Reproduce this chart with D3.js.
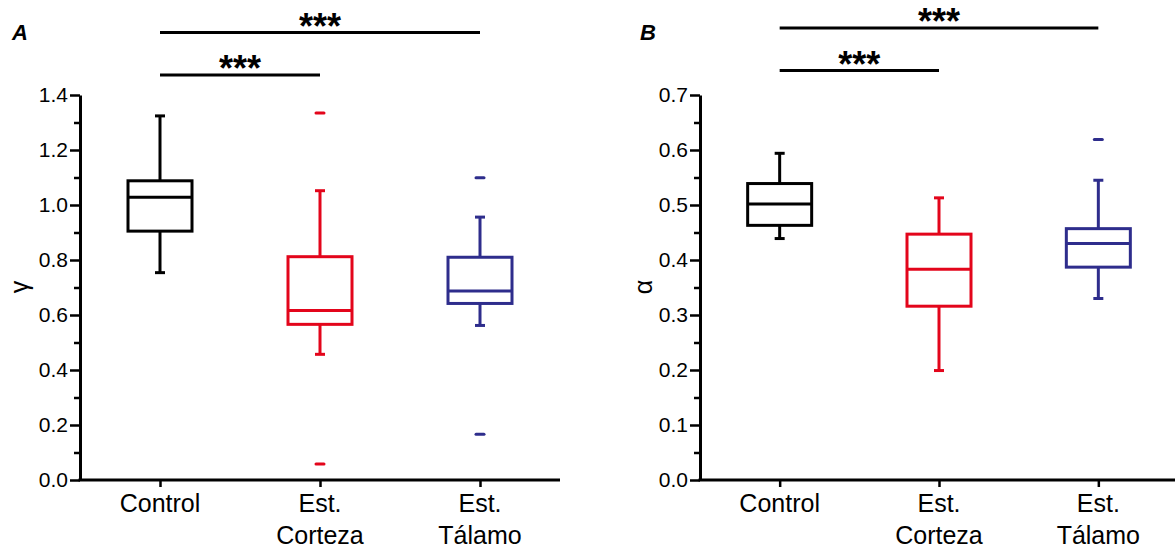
<!DOCTYPE html>
<html>
<head>
    <title>Box plots gamma / alpha</title>
    <script src="https://cdn.jsdelivr.net/npm/d3@7"></script>
    <style>
    body { margin: 0; background: #fff; }
    text { font-family: "Liberation Sans", Arial, sans-serif; }
    </style>
</head>
<body>
<div id="canvas"></div>

<script>
    // groups and their colours
    var categories = ["Control", "Est. Corteza", "Est. Tálamo"];
    var colors = ["#000000", "#e3051b", "#2e2d8c"];

    // panel A : gamma
    var gammaLow    = [0.754, 0.457, 0.562];
    var gammaQ1     = [0.905, 0.566, 0.642];
    var gammaMedian = [1.028, 0.616, 0.687];
    var gammaQ3     = [1.088, 0.812, 0.810];
    var gammaHigh   = [1.324, 1.052, 0.956];
    var gammaOutliers = [[], [1.335, 0.058], [1.099, 0.166]];
    var gammaTicks = [0, 0.2, 0.4, 0.6, 0.8, 1.0, 1.2, 1.4];

    // panel B : alpha
    var alphaLow    = [0.439, 0.199, 0.330];
    var alphaQ1     = [0.463, 0.316, 0.387];
    var alphaMedian = [0.502, 0.383, 0.430];
    var alphaQ3     = [0.539, 0.447, 0.457];
    var alphaHigh   = [0.594, 0.513, 0.545];
    var alphaOutliers = [[], [], [0.619]];
    var alphaTicks = [0, 0.1, 0.2, 0.3, 0.4, 0.5, 0.6, 0.7];

    // significance brackets: [from group, to group, label]
    var sigPairs = [[0, 2, "***"], [0, 1, "***"]];

    var w = 1175;
    var h = 548;

    var svg = d3.select("#canvas")
        .append("svg")
        .attr("width", w)
        .attr("height", h);

    svg.append("rect").attr("width", w).attr("height", h).attr("fill", "#fff");

    function drawPanel(p) {
        var g = svg.append("g");

        var x = d3.scalePoint()
            .domain(categories)
            .range([p.left, p.right])
            .padding(0.5);

        var y = d3.scaleLinear()
            .domain([0, p.max])
            .range([480, 95]);

        // minor ticks first (no labels)
        var minor = d3.range(p.step / 2, p.max, p.step);
        g.append("g")
            .attr("transform", "translate(" + p.left + ",0)")
            .call(d3.axisLeft(y).tickValues(minor).tickSize(6).tickSizeOuter(0).tickFormat(""))
            .call(function(a) { a.select(".domain").remove(); })
            .selectAll("line").attr("stroke-width", 2.5);

        // y axis
        var ya = g.append("g")
            .attr("transform", "translate(" + p.left + ",0)")
            .call(d3.axisLeft(y).tickValues(p.ticks).tickSize(10).tickSizeOuter(0).tickPadding(2)
                .tickFormat(d3.format(".1f")));
        ya.select(".domain").attr("stroke-width", 3);
        ya.selectAll("line").attr("stroke-width", 2.5);
        ya.selectAll("text").attr("font-size", 21).attr("fill", "#000")
            .attr("font-family", "Liberation Sans, Arial, sans-serif");

        // x axis
        var xa = g.append("g")
            .attr("transform", "translate(0,480)")
            .call(d3.axisBottom(x).tickSize(7).tickSizeOuter(0).tickFormat(""));
        xa.select(".domain").attr("stroke-width", 3)
            .attr("d", "M" + (p.left - 1.5) + ",0H" + p.right);
        xa.selectAll("line").attr("stroke-width", 2.5);

        // category labels, split in two lines after "Est."
        categories.forEach(function(c) {
            var parts = c.indexOf("Est. ") === 0 ? ["Est.", c.slice(5)] : [c];
            var t = g.append("text")
                .attr("text-anchor", "middle")
                .attr("font-size", 25)
                .attr("x", x(c))
                .attr("y", 512);
            parts.forEach(function(s, i) {
                t.append("tspan").attr("x", x(c)).attr("dy", i === 0 ? 0 : 32).text(s);
            });
        });

        // y label
        g.append("text")
            .attr("transform", "translate(" + p.labelX + ",287) rotate(-90)")
            .attr("text-anchor", "middle")
            .attr("font-size", 25)
            .text(p.label);

        // panel letter
        g.append("text")
            .attr("x", p.letterX)
            .attr("y", 40)
            .attr("font-size", 22)
            .attr("font-weight", "bold")
            .attr("font-style", "italic")
            .text(p.letter);

        // boxes
        var half = 32, cap = 5, dash = 4;
        categories.forEach(function(c, i) {
            var cx = x(c);
            var col = colors[i];
            var b = g.append("g")
                .attr("stroke", col)
                .attr("stroke-width", 3)
                .attr("fill", "none");

            // whiskers
            b.append("line").attr("x1", cx).attr("x2", cx).attr("y1", y(p.q3[i])).attr("y2", y(p.high[i]));
            b.append("line").attr("x1", cx).attr("x2", cx).attr("y1", y(p.q1[i])).attr("y2", y(p.low[i]));
            b.append("line").attr("x1", cx - cap).attr("x2", cx + cap).attr("y1", y(p.high[i])).attr("y2", y(p.high[i]));
            b.append("line").attr("x1", cx - cap).attr("x2", cx + cap).attr("y1", y(p.low[i])).attr("y2", y(p.low[i]));

            // box + median
            b.append("rect")
                .attr("x", cx - half)
                .attr("width", half * 2)
                .attr("y", y(p.q3[i]))
                .attr("height", y(p.q1[i]) - y(p.q3[i]))
                .attr("fill", "#fff");
            b.append("line").attr("x1", cx - half).attr("x2", cx + half)
                .attr("y1", y(p.median[i])).attr("y2", y(p.median[i]));

            // outliers drawn as short dashes
            b.selectAll(".out")
                .data(p.outliers[i])
                .enter()
                .append("line")
                .attr("x1", cx - dash)
                .attr("x2", cx + dash)
                .attr("y1", function(d) { return y(d); })
                .attr("y2", function(d) { return y(d); })
                .attr("stroke-linecap", "round");
        });

        // significance brackets
        sigPairs.forEach(function(s, k) {
            var ly = p.sigY[k];
            var x1 = x(categories[s[0]]), x2 = x(categories[s[1]]);
            g.append("line")
                .attr("x1", x1).attr("x2", x2)
                .attr("y1", ly).attr("y2", ly)
                .attr("stroke", "#000")
                .attr("stroke-width", 3);
            g.append("text")
                .attr("x", (x1 + x2) / 2)
                .attr("y", ly + 6)
                .attr("text-anchor", "middle")
                .attr("font-size", 36)
                .attr("font-weight", "bold")
                .text(s[2]);
        });
    }

    drawPanel({
        left: 80, right: 560, max: 1.4, step: 0.2, ticks: gammaTicks,
        low: gammaLow, q1: gammaQ1, median: gammaMedian, q3: gammaQ3, high: gammaHigh,
        outliers: gammaOutliers,
        label: "γ", labelX: 28, letter: "A", letterX: 12, sigY: [32.5, 75]
    });

    drawPanel({
        left: 700, right: 1178, max: 0.7, step: 0.1, ticks: alphaTicks,
        low: alphaLow, q1: alphaQ1, median: alphaMedian, q3: alphaQ3, high: alphaHigh,
        outliers: alphaOutliers,
        label: "α", labelX: 652, letter: "B", letterX: 640, sigY: [28, 70.5]
    });
</script>
</body>
</html>
